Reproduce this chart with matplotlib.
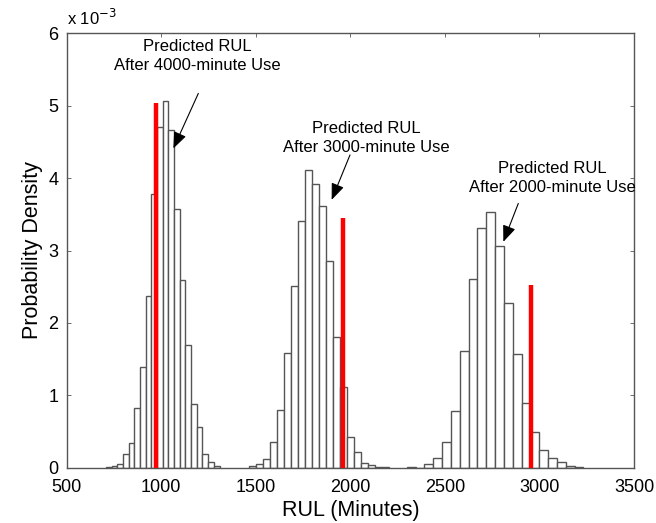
import matplotlib
matplotlib.use("Agg")
import matplotlib.pyplot as plt
import numpy as np

plt.rcParams['font.family'] = ['Liberation Sans', 'DejaVu Sans']

# Histogram data (probability density, x 1e-3) for the three predictions
bin_start_4000 = 708.0
bin_width_4000 = 30.0
dens_4000 = [0.01, 0.03, 0.05, 0.19, 0.34, 0.83, 1.39, 2.37, 3.78, 4.71,
             5.06, 4.67, 3.58, 2.59, 1.70, 0.88, 0.56, 0.19, 0.08, 0.03]

bin_start_3000 = 1466.0
bin_width_3000 = 37.0
dens_3000 = [0.02, 0.05, 0.12, 0.35, 0.80, 1.59, 2.51, 3.41, 4.11, 3.92,
             3.61, 2.86, 1.80, 1.11, 0.43, 0.22, 0.07, 0.04, 0.01, 0.01]

bin_start_2000 = 2298.0
bin_width_2000 = 46.7
dens_2000 = [0.01, 0.0, 0.05, 0.14, 0.35, 0.79, 1.61, 2.60, 3.31, 3.53,
             3.06, 2.28, 1.57, 0.89, 0.49, 0.25, 0.13, 0.08, 0.02, 0.01]

# True RUL (red lines) and their heights (x 1e-3)
true_rul = [970, 1962, 2957]
true_height = [5.04, 3.45, 2.53]

labels = ["Predicted RUL\nAfter 4000-minute Use",
          "Predicted RUL\nAfter 3000-minute Use",
          "Predicted RUL\nAfter 2000-minute Use"]
label_xy = [(1189, 5.69), (2083, 4.55), (3066, 4.00)]
arrow_tail = [(1196, 5.17), (1998, 4.32), (2888, 3.65)]
arrow_tip = [(1064, 4.41), (1901, 3.70), (2809, 3.12)]

fig = plt.figure(figsize=(6.56, 5.23), dpi=100)
ax = fig.add_axes([0.1017, 0.1057, 0.8648, 0.8306])

edge = '#555555'
for start, w, d in [(bin_start_4000, bin_width_4000, dens_4000),
                    (bin_start_3000, bin_width_3000, dens_3000),
                    (bin_start_2000, bin_width_2000, dens_2000)]:
    lefts = start + w * np.arange(len(d))
    ax.bar(lefts, d, width=w, align='edge', facecolor='white',
           edgecolor=edge, linewidth=1.0, zorder=2)

ax.vlines(true_rul, 0, true_height, colors='#ff0000', linewidth=3.2, zorder=3)

for lab, (tx, ty), tail, tip in zip(labels, label_xy, arrow_tail, arrow_tip):
    ax.text(tx, ty, lab, ha='center', va='center', fontsize=12,
            linespacing=1.3, zorder=4)
    ax.annotate('', xy=tip, xytext=tail,
                arrowprops=dict(arrowstyle='-|>,head_length=1.0,head_width=0.4',
                                color='black', lw=0.8, shrinkA=0, shrinkB=0),
                zorder=4)

ax.set_xlim(500, 3500)
ax.set_ylim(0, 6)
ax.set_xticks([500, 1000, 1500, 2000, 2500, 3000, 3500])
ax.set_yticks([0, 1, 2, 3, 4, 5, 6])
ax.tick_params(direction='in', length=3, width=0.6, color=edge,
               labelsize=13, top=True, right=True)
ax.tick_params(axis='x', pad=8)
ax.tick_params(axis='y', pad=6)
for s in ax.spines.values():
    s.set_color(edge)
    s.set_linewidth(1.0)

ax.set_xlabel('RUL (Minutes)', fontsize=15.5, labelpad=3)
ax.set_ylabel('Probability Density', fontsize=15.5, labelpad=4)
ax.text(0.0, 1.012, r'x 10$^{-3}$', transform=ax.transAxes, ha='left',
        va='bottom', fontsize=12)

fig.savefig('out.png', dpi=100)
